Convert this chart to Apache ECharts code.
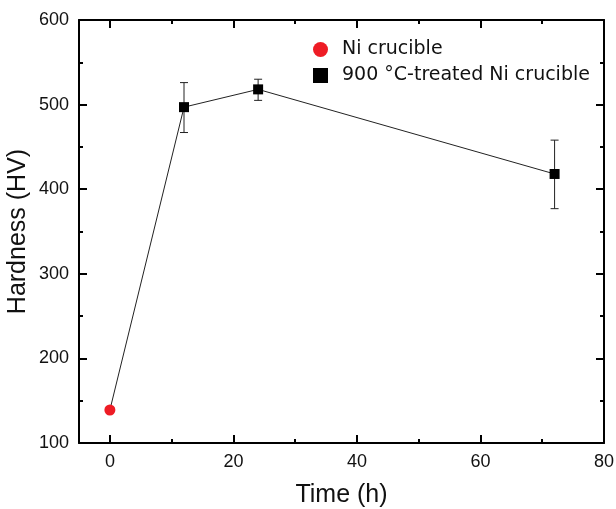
<!DOCTYPE html>
<html>
<head>
<meta charset="utf-8">
<script src="https://cdn.jsdelivr.net/npm/echarts@6/dist/echarts.min.js"></script>
<style>
  html, body { margin: 0; padding: 0; background: #fff; }
  #chart { width: 616px; height: 509px; }
</style>
</head>
<body>
<div id="chart"></div>
<script>
// Hardness of Ni crucibles versus treatment time
const asReceivedTime = [0];
const asReceivedHardness = [139];

const treatedTime = [12, 24, 72];
const treatedHardness = [497, 518, 418];
const treatedErrLow = [467, 505, 377];
const treatedErrHigh = [526, 530, 458];

const xTicks = [0, 20, 40, 60, 80];
const xMinorTicks = [10, 30, 50, 70];
const yTicks = [100, 200, 300, 400, 500, 600];

const seriesNames = ['Ni crucible', '900 \u00B0C-treated Ni crucible'];

// Connecting line through every measurement
const linePoints = asReceivedTime.map((t, i) => [t, asReceivedHardness[i]])
  .concat(treatedTime.map((t, i) => [t, treatedHardness[i]]));

const X_MIN = -5, X_MAX = 80, Y_MIN = yTicks[0], Y_MAX = yTicks[yTicks.length - 1];
const black = '#000';
const tickFont = { fontFamily: 'Liberation Sans, Arial, sans-serif', fontSize: 18, color: '#111' };
const titleFont = { fontFamily: 'Liberation Sans, Arial, sans-serif', fontSize: 25, color: '#111' };

// x axes: major ticks at fixed values, minor ticks on an overlaid axis
function xAxisDef(pos, values, len, withLine, withLabels) {
  return {
    type: 'value', position: pos, min: X_MIN, max: X_MAX,
    axisLine: { show: withLine, onZero: false, lineStyle: { color: black, width: 2 } },
    axisTick: { show: true, inside: true, length: len, customValues: values,
      lineStyle: { color: black, width: 2 } },
    splitLine: { show: false },
    axisLabel: withLabels
      ? Object.assign({ show: true, margin: 10, customValues: values }, tickFont)
      : { show: false }
  };
}

const xMain = xAxisDef('bottom', xTicks, 8, true, true);
xMain.name = 'Time (h)';
xMain.nameLocation = 'middle';
xMain.nameGap = 40;
xMain.nameTextStyle = titleFont;

function yAxisDef(pos, withLabels) {
  return {
    type: 'value', position: pos, min: Y_MIN, max: Y_MAX, interval: 100,
    axisLine: { show: true, onZero: false, lineStyle: { color: black, width: 2 } },
    axisTick: { show: true, inside: true, length: 8, lineStyle: { color: black, width: 2 } },
    minorTick: { show: true, splitNumber: 2, length: 4, lineStyle: { color: black, width: 2 } },
    splitLine: { show: false },
    axisLabel: withLabels ? Object.assign({ margin: 10 }, tickFont) : { show: false }
  };
}
const yMain = yAxisDef('left', true);
yMain.name = 'Hardness (HV)';
yMain.nameLocation = 'middle';
yMain.nameGap = 48;
yMain.nameMoveOverlap = false;
yMain.nameTextStyle = titleFont;
const yRight = yAxisDef('right', false);

const chart = echarts.init(document.getElementById('chart'), null, { renderer: 'canvas' });

chart.setOption({
  animation: false,
  backgroundColor: '#fff',
  grid: { left: 79, right: 12, top: 20, bottom: 66, containLabel: false, outerBoundsMode: 'none' },
  xAxis: [
    xMain,
    xAxisDef('bottom', xMinorTicks, 4, false, false),
    xAxisDef('top', xTicks, 8, true, false),
    xAxisDef('top', xMinorTicks, 4, false, false)
  ],
  yAxis: [yMain, yRight],
  legend: {
    orient: 'vertical', left: 308, top: 35, itemGap: 7,
    itemWidth: 15, itemHeight: 15,
    textStyle: { fontFamily: 'DejaVu Sans, sans-serif', fontSize: 19, color: '#111',
      padding: [0, 0, 0, 9] },
    data: [
      { name: seriesNames[0], icon: 'circle' },
      { name: seriesNames[1], icon: 'rect' }
    ]
  },
  series: [
    {
      type: 'line', data: linePoints, symbol: 'none', silent: true,
      lineStyle: { color: '#222', width: 1 }, z: 1
    },
    {
      type: 'custom', name: 'err', z: 2, silent: true,
      data: treatedTime.map((t, i) => [t, treatedErrLow[i], treatedErrHigh[i]]),
      renderItem: function (params, api) {
        const x = api.coord([api.value(0), api.value(1)])[0];
        const lo = api.coord([api.value(0), api.value(1)])[1];
        const hi = api.coord([api.value(0), api.value(2)])[1];
        const hw = 4;
        const st = { stroke: '#222', lineWidth: 1 };
        return {
          type: 'group',
          children: [
            { type: 'line', shape: { x1: x, y1: lo, x2: x, y2: hi }, style: st },
            { type: 'line', shape: { x1: x - hw, y1: lo, x2: x + hw, y2: lo }, style: st },
            { type: 'line', shape: { x1: x - hw, y1: hi, x2: x + hw, y2: hi }, style: st }
          ]
        };
      }
    },
    {
      type: 'scatter', name: seriesNames[0], symbol: 'circle', symbolSize: 11, z: 3,
      itemStyle: { color: '#ee1c25', opacity: 1 },
      data: asReceivedTime.map((t, i) => [t, asReceivedHardness[i]])
    },
    {
      type: 'scatter', name: seriesNames[1], symbol: 'rect', symbolSize: 10, z: 3,
      itemStyle: { color: '#000', opacity: 1 },
      data: treatedTime.map((t, i) => [t, treatedHardness[i]])
    }
  ]
});
</script>
</body>
</html>
